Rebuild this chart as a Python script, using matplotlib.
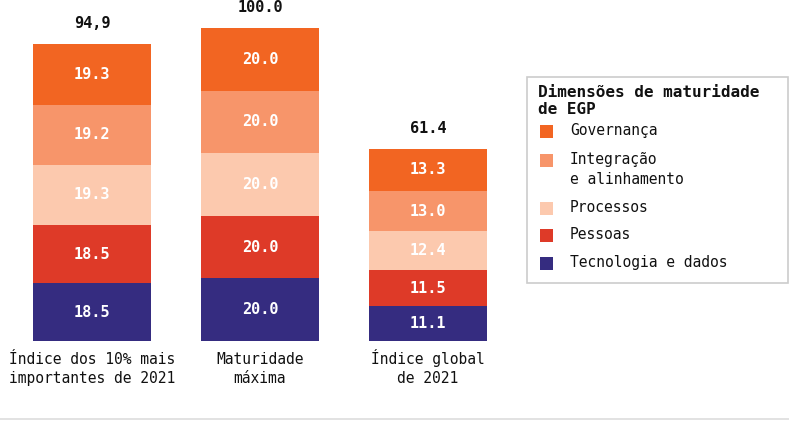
import matplotlib
matplotlib.use("Agg")
import matplotlib.pyplot as plt
from matplotlib.patches import Rectangle
from matplotlib.lines import Line2D
from matplotlib.transforms import blended_transform_factory

categories = ["Índice dos 10% mais\nimportantes de 2021", "Maturidade\nmáxima", "Índice global\nde 2021"]
series_names = ["Tecnologia e dados", "Pessoas", "Processos", "Integração\ne alinhamento", "Governança"]
tecnologia = [18.5, 20.0, 11.1]
pessoas = [18.5, 20.0, 11.5]
processos = [19.3, 20.0, 12.4]
integracao = [19.2, 20.0, 13.0]
governanca = [19.3, 20.0, 13.3]
totals = [94.9, 100.0, 61.4]
total_labels = ["94,9", "100.0", "61.4"]
colors = ["#352C80", "#DE3A28", "#FCC9AE", "#F7956A", "#F26522"]
legend_title = "Dimensões de maturidade\nde EGP"

plt.rcParams['font.family'] = ['DejaVu Sans Mono']
W, H = 789, 421
fig = plt.figure(figsize=(W / 100, H / 100), dpi=100)

def fx(px):
    return px / W

def fy(py):
    return 1 - py / H

ax = fig.add_axes([0, (H - 341) / H, 520 / W, 341 / H])
xs = [0, 1, 2]
series = [tecnologia, pessoas, processos, integracao, governanca]
bottoms = [0, 0, 0]
for vals, col in zip(series, colors):
    ax.bar(xs, vals, width=0.70, bottom=bottoms, color=col, linewidth=0)
    for x, v, b in zip(xs, vals, bottoms):
        ax.text(x, b + v / 2, f"{v:.1f}", ha="center", va="center", color="white",
                fontsize=11, fontweight="bold")
    bottoms = [b + v for b, v in zip(bottoms, vals)]

for x, t, lab in zip(xs, totals, total_labels):
    ax.annotate(lab, (x, t), xytext=(0, 9), textcoords="offset points",
                ha="center", va="bottom", fontsize=11, fontweight="bold", color="#111111",
                annotation_clip=False)

ax.set_xlim(-92 / 168, (520 - 92) / 168)
ax.set_ylim(0, 341 / 3.13)
ax.set_xticks([])
ax.set_yticks([])
for s in ax.spines.values():
    s.set_visible(False)

trans = blended_transform_factory(ax.transData, fig.transFigure)
for x, lab in zip(xs, categories):
    first, second = lab.split("\n")
    ax.text(x, fy(364), first, transform=trans, ha="center", va="baseline",
            fontsize=10.5, color="#111111")
    ax.text(x, fy(383), second, transform=trans, ha="center", va="baseline",
            fontsize=10.5, color="#111111")

# bottom rule
fig.add_artist(Line2D([0, 1], [fy(419), fy(419)], color="#DDDDDD", linewidth=1.2))

# legend box
fig.add_artist(Rectangle((fx(527), fy(283)), fx(788) - fx(527), fy(77) - fy(283),
                         transform=fig.transFigure, facecolor="white", edgecolor="#CCCCCC", linewidth=1.2))
fig.text(fx(538), fy(97), "Dimensões de maturidade", ha="left", va="baseline", fontsize=11.5,
         fontweight="bold", color="#111111")
fig.text(fx(538), fy(114), "de EGP", ha="left", va="baseline", fontsize=11.5,
         fontweight="bold", color="#111111")
item_y = [263, 235, 208, 160, 131]
for name, col, yy in zip(series_names, colors, item_y):
    fig.add_artist(Rectangle((fx(540), fy(yy + 7)), fx(553) - fx(540), fy(yy - 6) - fy(yy + 7),
                             transform=fig.transFigure, facecolor=col, edgecolor="none"))
    lines = name.split("\n")
    for i, ln in enumerate(lines):
        fig.text(fx(570), fy(yy + 4 + 20 * i), ln, ha="left", va="baseline", fontsize=10.5,
                 color="#111111")

fig.savefig("out.png", dpi=100)
